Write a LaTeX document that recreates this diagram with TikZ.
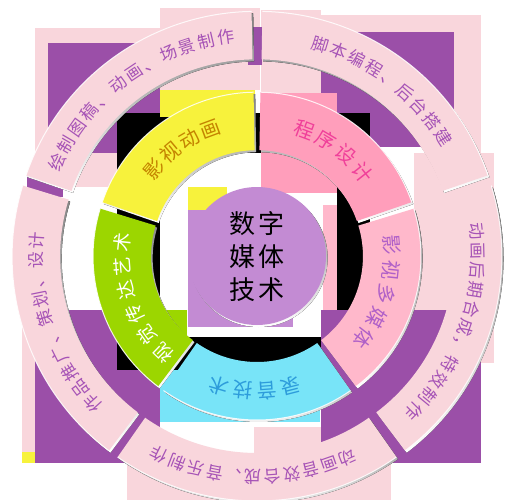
\documentclass[tikz,border=0pt]{standalone}
\usepackage{fontspec}
\setmainfont{Noto Sans CJK SC}
\definecolor{ringpink}{HTML}{F9D6DC}
\definecolor{outtxt}{HTML}{A653B6}
\definecolor{sqpurple}{HTML}{9B4FA8}
\definecolor{segyellow}{HTML}{F7F23C}
\definecolor{txtyellow}{HTML}{C48400}
\definecolor{segpink}{HTML}{FF9EBB}
\definecolor{txtpink}{HTML}{F0409A}
\definecolor{seglpink}{HTML}{FFB8CB}
\definecolor{txtlpink}{HTML}{B060C8}
\definecolor{segcyan}{HTML}{78E4F8}
\definecolor{txtcyan}{HTML}{2D9CDB}
\definecolor{seggreen}{HTML}{9CD600}
\definecolor{centfill}{HTML}{C38BD3}
\definecolor{shade}{HTML}{3A2830}
% rectangle in pixel coordinates (x1,y1,x2,y2), y downwards
\newcommand\blk[5]{\fill[#1] (#2,-#3) rectangle (#4,-#5);}
% ring segment: fill, a1, a2, rin, rout, explode
\newcommand\ringseg[6]{%
  \pgfmathsetmacro\segmid{(#2+#3)/2}%
  \begin{scope}[shift={(\segmid:#6pt)}]
    \fill[shade,shift={(1.6pt,-2pt)}] (#2:#5pt) arc[start angle=#2,end angle=#3,radius=#5pt] -- (#3:#4pt) arc[start angle=#3,end angle=#2,radius=#4pt] -- cycle;
    \fill[#1] (#2:#5pt) arc[start angle=#2,end angle=#3,radius=#5pt] -- (#3:#4pt) arc[start angle=#3,end angle=#2,radius=#4pt] -- cycle;
    \draw[white,line width=1pt,opacity=.85] (#2:#5pt) arc[start angle=#2,end angle=#3,radius=#5pt];
  \end{scope}}
% text along arc: style, centre angle, step, radius, count, list, name prefix
\newcommand\arctext[7]{%
  \foreach \ch [count=\i from 0] in {#6} {
    \pgfmathsetmacro\ang{#2+#3*((#5-1)/2-\i)}
    \node[#1,rotate=\ang-90] (#7-\i) at (\ang:#4pt) {\ch};
  }}
\tikzset{
  outtext/.style={text=outtxt,font=\fontsize{17pt}{17pt}\selectfont,inner sep=0pt,text height=15pt,text depth=2pt},
  intext/.style={font=\fontsize{20pt}{20pt}\selectfont,inner sep=0pt,text height=17.6pt,text depth=2.4pt},
  greentext/.style={text=white,font=\fontsize{19pt}{19pt}\selectfont,inner sep=0pt,text height=16.7pt,text depth=2.3pt},
  coretext/.style={font=\fontsize{26pt}{33pt}\selectfont,align=center,text=black,inner sep=0pt}
}
\begin{document}
\begin{tikzpicture}[x=1pt,y=1pt]
\useasboundingbox (0,0) rectangle (514,-500);
\fill[white] (0,0) rectangle (514,-500);
% ---- stray rectangles behind the rings ----
\blk{ringpink}{35}{28}{160}{187}
\blk{ringpink}{160}{8}{260}{90}
\blk{ringpink}{261}{10}{321}{93}
\blk{ringpink}{321}{15}{481}{32}
\blk{ringpink}{454}{32}{481}{157}
\blk{ringpink}{414}{153}{494}{363}
\blk{ringpink}{22}{300}{40}{452}
\blk{segyellow}{22}{452}{35}{463}
\blk{ringpink}{127}{463}{260}{500}
\blk{ringpink}{254}{427}{391}{500}
\blk{sqpurple}{48}{43}{160}{153}
\blk{sqpurple}{321}{32}{454}{147}
\blk{sqpurple}{35}{310}{160}{463}
\blk{sqpurple}{27}{177}{63}{197}
\blk{sqpurple}{248}{27}{262}{65}
\blk{black}{117}{113}{370}{370}
\blk{white}{160}{153}{337}{337}
\blk{segpink}{261}{93}{337}{193}
\blk{segyellow}{160}{90}{255}{117}
\blk{segyellow}{188}{187}{227}{210}
\blk{centfill}{188}{210}{293}{327}
\blk{seglpink}{323}{205}{337}{310}
\blk{seggreen}{143}{310}{187}{350}
\blk{segcyan}{160}{370}{320}{422}
\blk{sqpurple}{321}{310}{481}{463}
% ---- rings ----
\begin{scope}[shift={(257,-256)}]
  % outer ring
  \ringseg{ringpink}{161}{91}{195}{243}{2}
  \ringseg{ringpink}{89}{19}{195}{243}{2}
  \ringseg{ringpink}{17}{-53}{195}{243}{2}
  \ringseg{ringpink}{-55}{-125}{195}{243}{2}
  \ringseg{ringpink}{-127}{-197}{195}{243}{2}
  % inner ring
  \ringseg{segyellow}{161}{91}{105}{163}{1}
  \ringseg{segpink}{89}{19}{105}{163}{1}
  \ringseg{seglpink}{17}{-53}{105}{163}{1}
  \ringseg{segcyan}{-55}{-125}{105}{163}{1}
  \ringseg{seggreen}{-127}{-197}{105}{163}{1}
  % centre
  \fill[shade] (1.6,-2) circle[radius=69pt];
  \fill[centfill] (0,0) circle[radius=69pt];
  \node[coretext] (core) at (0,-1) {数\hspace{4pt}字\\媒\hspace{4pt}体\\技\hspace{4pt}术};
  % outer texts
  \arctext{outtext}{126.5}{5.15}{221}{12}{绘,制,图,稿,、,动,画,、,场,景,制,作}{o1}
  \arctext{outtext}{53}{5.1}{221}{9}{脚,本,编,程,、,后,台,搭,建}{o2}
  \arctext{outtext}{-19}{5.1}{221}{11}{动,画,后,期,合,成,，,特,效,制,作}{o3}
  \arctext{outtext}{-91}{5.05}{221}{11}{动,画,音,效,合,成,、,音,乐,制,作}{o4}
  \arctext{outtext}{199}{5.1}{221}{10}{作,品,推,广,、,策,划,、,设,计}{o5}
  % inner texts
  \arctext{intext,text=txtyellow}{125}{9.8}{135}{4}{影,视,动,画}{i1}
  \arctext{intext,text=txtpink}{54}{10.4}{135}{4}{程,序,设,计}{i2}
  \arctext{intext,text=txtlpink}{-16.5}{10.6}{135}{5}{影,视,多,媒,体}{i3}
  \arctext{intext,text=txtcyan}{-91}{10.2}{135}{4}{录,音,技,术}{i4}
  \arctext{greentext}{200}{10.4}{135}{6}{视,觉,传,达,艺,术}{i5}
\end{scope}
\end{tikzpicture}
\end{document}
